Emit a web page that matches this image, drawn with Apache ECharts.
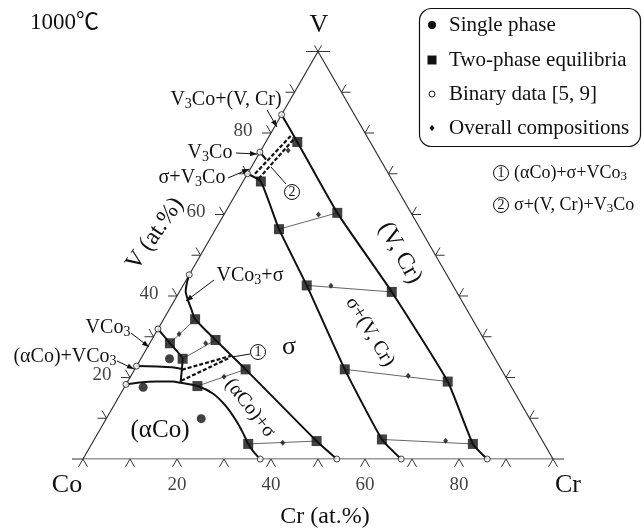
<!DOCTYPE html>
<html><head><meta charset="utf-8">
<script src="https://cdn.jsdelivr.net/npm/echarts@6/dist/echarts.min.js"></script>
<style>html,body{margin:0;padding:0;background:#fff}#c{width:644px;height:529px}</style>
</head><body><div id="c"></div>
<script>
// ---- data: compositions as [Cr at.%, V at.%] ----
const singlePhase = [[6.1,24.6],[4.0,17.6],[20.2,9.9]];
const twoPhase = [
  [6.7,77.8],[3.8,68.1],[23.9,60.4],[13.5,56.4],[26.3,42.6],[45.2,41.0],
  [44.7,22.0],[68.1,19.0],[61.2,4.8],[81.1,3.7],[47.5,4.4],[33.3,3.7],
  [23.6,22.0],[15.4,17.9],[13.6,29.2],[8.9,24.6],[6.7,34.3],[4.3,28.4]
];
const binaryData = [[0,84.5],[0,75.3],[0,70.0],[0,45.2],[0,31.9],[0,22.8],[0,18.3],[37.7,0],[54.0,0],[67.7,0],[86.0,0]];
const overall = [[20.1,60.0],[31.5,42.5],[59.0,20.4],[74.9,4.5],[40.5,4.0],[19.9,20.2],[11.9,28.4],[5.1,30.7],[5.8,75.7]];
// tie lines: pairs of indices into twoPhase
const tieLines = [[3,2],[4,5],[6,7],[8,9],[11,10],[13,12],[15,14],[17,16]];
// phase boundaries
const vcrBoundary = [[0,84.5],[6.7,77.8],[23.9,60.4],[45.2,41.0],[68.1,19.0],[81.1,3.7],[86.0,0]];
const sigmaVcrBoundary = [[0,70.0],[3.8,68.1],[13.5,56.4],[26.3,42.6],[44.7,22.0],[61.2,4.8],[67.7,0]];
const sigmaCoBoundary = [[0,45.2],[0.5,43.2],[1.3,41.1],[2.75,39.1],[4.8,36.6],[6.7,34.3],[13.6,29.2],[23.6,22.0],[47.5,4.4],[54.0,0]];
const vco3SigmaBoundary = [[0,31.9],[4.3,28.4],[8.9,24.6],[10.0,22.1],[11.4,18.7]];
const vco3CoBoundary = [[0,22.8],[4.4,22.7],[7.7,22.5],[10.0,22.1]];
const alphaCoBoundary = [[0,18.3],[2.7,18.8],[6.2,19.0],[9.5,19.0],[11.4,18.7],[15.4,17.9],[19.7,16.0],[24.0,12.9],[28.3,9.0],[31.3,5.9],[33.3,3.7],[35.5,1.7],[37.7,0]];
const v3coBoundary = [[0,75.3],[2.2,73.5]];
const triangle1Dashed = [[[10.1,21.9],[18.8,25.3]],[[11.3,19.2],[18.7,24.8]]];
const triangle2Dashed = [[[3.0,68.8],[5.6,78.6]],[[1.6,70.0],[4.6,79.4]]];
const frame = [[0,0],[100,0],[0,100],[0,0]];
const tickValues = [10,20,30,40,50,60,70,80,90];
const tickLabels = ['20','40','60','80'];

// ---- ternary projection ----
const S3 = Math.sqrt(3)/2;
const toXY = p => [p[0] + p[1]/2, p[1]*S3];
const SERIF = "'Liberation Serif','Times New Roman','Noto Sans CJK SC',serif";
const INK = '#111';

const series = [];
series.push({type:'line', data:frame.map(toXY), symbol:'none', silent:true, z:1,
  lineStyle:{color:'#333', width:1.2}});
const thick = (d, smooth) => series.push({type:'line', data:d.map(toXY), symbol:'none', smooth:smooth||0, silent:true, z:3,
  lineStyle:{color:INK, width:2}});
thick(vcrBoundary, 0.15);
thick(sigmaVcrBoundary, 0.15);
thick(sigmaCoBoundary, 0.25);
thick(vco3SigmaBoundary, 0.1);
thick(vco3CoBoundary, 0.2);
thick(alphaCoBoundary, 0.3);
thick(v3coBoundary, 0);
series.push({type:'lines', coordinateSystem:'cartesian2d', silent:true, z:2,
  data: tieLines.map(t => ({coords:[toXY(twoPhase[t[0]]), toXY(twoPhase[t[1]])]})),
  lineStyle:{color:'#555', width:0.9, opacity:1}});
series.push({type:'lines', coordinateSystem:'cartesian2d', silent:true, z:2,
  data: triangle1Dashed.concat(triangle2Dashed).map(s => ({coords:s.map(toXY)})),
  lineStyle:{color:INK, width:2.2, type:[4,2], opacity:1}});
// ticks
const tickData = [];
tickValues.forEach(v => {
  tickData.push([...toXY([v,0]),0]);
  tickData.push([...toXY([0,v]),1]);
  tickData.push([...toXY([100-v,v]),2]);
});
tickData.push([...toXY([0,0]),3],[...toXY([100,0]),4],[...toXY([0,100]),5]);
const DIRS = {
  0:[[-0.5,0.866,9],[0.5,0.866,9]],
  1:[[-1,0,9],[-0.5,-0.866,9]],
  2:[[1,0,9],[0.5,-0.866,9]],
  3:[[-1,0,11],[-0.5,0.866,9],[0.5,0.866,9]],
  4:[[1,0,11],[-0.5,0.866,9],[0.5,0.866,9]],
  5:[[-1,0,12],[1,0,12],[-0.5,-0.866,7],[0.5,-0.866,7]]
};
series.push({type:'custom', data:tickData, encode:{x:0,y:1}, silent:true, z:1,
  renderItem:(params, api) => {
    const p = api.coord([api.value(0), api.value(1)]);
    const dirs = DIRS[api.value(2)];
    return {type:'group', children: dirs.map(d => ({type:'line',
      shape:{x1:p[0], y1:p[1], x2:p[0]+d[0]*d[2], y2:p[1]+d[1]*d[2]},
      style:{stroke:'#333', lineWidth:1}}))};
  }});
const tickLabelStyle = {show:true, formatter:'{b}', fontFamily:SERIF, fontSize:19, color:INK};
series.push({type:'scatter', symbolSize:0, silent:true,
  data: tickLabels.map(t => ({name:t, value:toXY([+t,0])})),
  label:Object.assign({position:'inside', offset:[0,26]}, tickLabelStyle)});
series.push({type:'scatter', symbolSize:0, silent:true,
  data: tickLabels.map(t => ({name:t, value:toXY([0,+t])})),
  label:Object.assign({position:'inside', offset:[-28,-2]}, tickLabelStyle)});
// markers
series.push({type:'scatter', name:'Two-phase equilibria', data:twoPhase.map(toXY), symbol:'rect', symbolSize:10, z:6,
  itemStyle:{color:INK}});
series.push({type:'scatter', name:'Single phase', data:singlePhase.map(toXY), symbol:'circle', symbolSize:9, z:6,
  itemStyle:{color:INK}});
series.push({type:'scatter', name:'Binary data [5, 9]', data:binaryData.map(toXY), symbol:'circle', symbolSize:6, z:7,
  itemStyle:{color:'#fff', borderColor:INK, borderWidth:1}});
series.push({type:'scatter', name:'Overall compositions', data:overall.map(toXY), symbol:'diamond', symbolSize:[5,6], z:6,
  itemStyle:{color:INK}});

// ---- text / annotation graphics ----
const g = [];
const rich = size => ({s:{fontFamily:SERIF, fontSize:Math.round(size*0.72), lineHeight:Math.round(size*0.62), verticalAlign:'bottom', fill:INK}});
function txt(x, y, text, size, o) {
  o = o || {};
  g.push({type:'text', x, y, rotation:o.rot || 0, z:20,
    style:{text, fontFamily:SERIF, fontSize:size, lineHeight:Math.round(size*1.15), fill:INK, align:o.align || 'center', verticalAlign:'middle', rich:rich(size)}});
}
function arrow(x1, y1, x2, y2, head) {
  g.push({type:'line', shape:{x1, y1, x2, y2}, style:{stroke:INK, lineWidth:1}, z:20});
  if (head !== false) {
    const a = Math.atan2(y2-y1, x2-x1), L = 7, W = 2.6;
    const bx = x2 - L*Math.cos(a), by = y2 - L*Math.sin(a);
    g.push({type:'polygon', z:20, shape:{points:[[x2,y2],[bx - W*Math.sin(a), by + W*Math.cos(a)],[bx + W*Math.sin(a), by - W*Math.cos(a)]]},
      style:{fill:INK}});
  }
}
function circled(x, y, n) {
  g.push({type:'circle', shape:{cx:x, cy:y, r:7.5}, style:{fill:'#fff', stroke:INK, lineWidth:1}, z:20});
  g.push({type:'text', x, y:y+0.5, z:21, style:{text:n, fontFamily:SERIF, fontSize:14, fill:INK, align:'center', verticalAlign:'middle'}});
}
const deg = d => d*Math.PI/180;
txt(30, 23, '1000℃', 23, {align:'left'});
txt(319, 25, 'V', 26);
txt(67, 485, 'Co', 26);
txt(568, 485, 'Cr', 26);
txt(325, 517, 'Cr (at.%)', 24);
txt(155, 234, 'V (at.%)', 24, {rot:deg(55)});
txt(226, 100, 'V{s|3}Co+(V, Cr)', 20);
txt(210, 153, 'V{s|3}Co', 20);
txt(192, 178, 'σ+V{s|3}Co', 20);
txt(250, 276, 'VCo{s|3}+σ', 20);
txt(108, 328, 'VCo{s|3}', 20);
txt(65, 357, '(αCo)+VCo{s|3}', 20);
txt(160, 430, '(αCo)', 25);
txt(289, 347, 'σ', 26);
txt(400, 253, '(V, Cr)', 24, {rot:deg(-61)});
txt(370, 332, 'σ+(V, Cr)', 20, {rot:deg(-59)});
txt(250, 408, '(αCo)+σ', 20, {rot:deg(-52)});
arrow(267, 110, 277, 127);
arrow(236, 153, 257, 154);
arrow(228, 178, 249, 169);
arrow(214, 280, 186, 301);
arrow(131, 333, 149, 347);
arrow(117, 361, 134, 369);
arrow(250, 354, 232, 357, false);
arrow(286, 184, 271, 167, false);
circled(258, 352, '1');
circled(292, 192, '2');
// legend
g.push({type:'rect', shape:{x:419.5, y:8.5, width:221, height:138, r:12}, style:{fill:'none', stroke:INK, lineWidth:1.2}, z:20});
g.push({type:'circle', shape:{cx:432, cy:25, r:4}, style:{fill:INK}, z:20});
g.push({type:'rect', shape:{x:427.5, y:55.5, width:9, height:9}, style:{fill:INK}, z:20});
g.push({type:'circle', shape:{cx:432, cy:94, r:3}, style:{fill:'#fff', stroke:INK, lineWidth:1}, z:20});
g.push({type:'polygon', shape:{points:[[432,125],[434.5,128],[432,131],[429.5,128]]}, style:{fill:INK}, z:20});
txt(449, 25, 'Single phase', 21, {align:'left'});
txt(449, 60, 'Two-phase equilibria', 21, {align:'left'});
txt(449, 94, 'Binary data [5, 9]', 21, {align:'left'});
txt(449, 128, 'Overall compositions', 21, {align:'left'});
circled(501, 173, '1');
txt(514, 173, '(αCo)+σ+VCo{s|3}', 18, {align:'left'});
circled(501, 205, '2');
txt(514, 205, 'σ+(V, Cr)+V{s|3}Co', 18, {align:'left'});

const chart = echarts.init(document.getElementById('c'));
chart.setOption({
  animation:false,
  backgroundColor:'#fff',
  grid:{left:83, top:51.5, width:470, height:407.5},
  xAxis:{type:'value', min:0, max:100, show:false},
  yAxis:{type:'value', min:0, max:86.6025, show:false},
  series,
  graphic:g
});
</script></body></html>
